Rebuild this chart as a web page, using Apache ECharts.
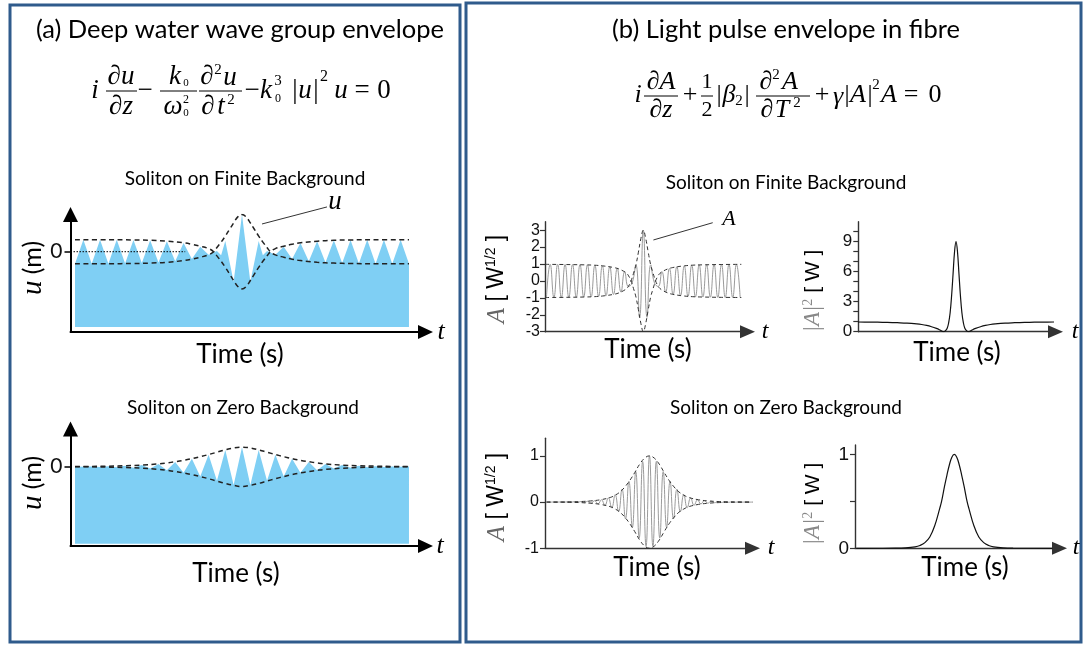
<!DOCTYPE html>
<html><head><meta charset="utf-8">
<script src="https://cdn.jsdelivr.net/npm/echarts@6/dist/echarts.min.js"></script>
<style>html,body{margin:0;padding:0;background:#fff}#c{width:1084px;height:646px}</style>
</head><body><div id="c"></div>
<script>
// ---------------- DATA ----------------
// (a) top: soliton on finite background, wave extrema (t in half-periods, u in background units)
const aTopT = [-20,-19,-18,-17,-16,-15,-14,-13,-12,-11,-10,-9,-8,-7,-6,-5,-4,-3,-2.5,-2,-1,0,1,2,2.5,3,4,5,6,7,8,9,10,11,12,13,14,15,16,17,18,19,20];
const aTopU = [-1,1,-1,1,-1,1,-0.98,0.98,-0.95,0.95,-0.9,0.88,-0.8,0.72,-0.6,0.42,-0.25,0.05,-0.3,0.9,-2.5,3.1,-2.5,0.9,-0.3,0.05,-0.25,0.42,-0.6,0.72,-0.8,0.88,-0.9,0.95,-0.95,0.98,-0.98,1,-1,1,-1,1,-1];
const aTopEnvT = [-20,-16,-13,-11,-9,-7,-6,-5,-4,-3.4,-3,-2.5,-2,-1.5,-1,-0.5,0,0.5,1,1.5,2,2.5,3,3.4,4,5,6,7,9,11,13,16,20];
const aTopEnvUpper = [1,1,0.98,0.95,0.88,0.74,0.62,0.46,0.26,0,-0.35,-0.8,-1.3,-1.85,-2.4,-2.9,-3.1,-2.9,-2.4,-1.85,-1.3,-0.8,-0.35,0,0.26,0.46,0.62,0.74,0.88,0.95,0.98,1,1];
const aTopEnvLower = [-1,-1,-0.98,-0.95,-0.88,-0.74,-0.62,-0.46,-0.26,0,0.35,0.8,1.3,1.85,2.4,2.9,3.1,2.9,2.4,1.85,1.3,0.8,0.35,0,-0.26,-0.46,-0.62,-0.74,-0.88,-0.95,-0.98,-1,-1];
const aTopZeroT = [-20.54,-6.8];
const aTopZeroU = [0,0];
const aTopPointerT = [10.18,2.4];
const aTopPointerU = [3.73,2.31];
const aFillBaseTop = -6.27;

// (a) bottom: soliton on zero background
const aBotT = [-20,-19,-18,-17,-16,-15,-14,-13,-12,-11,-10,-9,-8,-7,-6,-5,-4,-3,-2,-1,0,1,2,3,4,5,6,7,8,9,10,11,12,13,14,15,16,17,18,19,20];
const aBotU = [0.006,-0.009,0.012,-0.018,0.025,-0.033,0.045,-0.06,0.08,-0.1,0.14,-0.18,0.24,-0.31,0.4,-0.5,0.61,-0.72,0.85,-0.94,1,-0.94,0.85,-0.72,0.61,-0.5,0.4,-0.31,0.24,-0.18,0.14,-0.1,0.08,-0.06,0.045,-0.033,0.025,-0.018,0.012,-0.009,0.006];
const aBotEnvT = [-20,-18,-16,-14,-12,-10,-9,-8,-7,-6,-5,-4,-3,-2,-1,0,1,2,3,4,5,6,7,8,9,10,12,14,16,18,20];
const aBotEnvUpper = [0.006,0.012,0.025,0.045,0.08,0.14,0.19,0.25,0.32,0.41,0.51,0.62,0.74,0.86,0.96,1,0.96,0.86,0.74,0.62,0.51,0.41,0.32,0.25,0.19,0.14,0.08,0.045,0.025,0.012,0.006];
const aBotEnvLower = [-0.006,-0.012,-0.025,-0.045,-0.08,-0.14,-0.19,-0.25,-0.32,-0.41,-0.51,-0.62,-0.74,-0.86,-0.96,-1.02,-0.96,-0.86,-0.74,-0.62,-0.51,-0.41,-0.32,-0.25,-0.19,-0.14,-0.08,-0.045,-0.025,-0.012,-0.006];
const aFillBaseBot = -3.96;

// (b) top-left: field A of the Peregrine-type pulse (carrier extrema) and its envelope
const bTLT = [-9.88,-9.5,-9.12,-8.74,-8.36,-7.98,-7.6,-7.22,-6.84,-6.46,-6.08,-5.7,-5.32,-4.94,-4.56,-4.18,-3.8,-3.42,-3.04,-2.66,-2.28,-1.9,-1.52,-1.14,-0.76,-0.38,0,0.38,0.76,1.14,1.52,1.9,2.28,2.66,3.04,3.42,3.8,4.18,4.56,4.94,5.32,5.7,6.08,6.46,6.84,7.22,7.6,7.98,8.36,8.74,9.12,9.5,9.88];
const bTLA = [-0.98,0.98,-0.98,0.98,-0.98,0.97,-0.97,0.97,-0.96,0.96,-0.95,0.95,-0.94,0.93,-0.91,0.89,-0.87,0.84,-0.8,0.74,-0.66,0.55,-0.33,-0.12,0.95,-2.15,3,-2.15,0.95,-0.12,-0.33,0.55,-0.66,0.74,-0.8,0.84,-0.87,0.89,-0.91,0.93,-0.94,0.95,-0.95,0.96,-0.96,0.97,-0.97,0.97,-0.98,0.98,-0.98,0.98,-0.98];
const bTLEnvT = [-10,-8,-6,-5,-4,-3,-2.5,-2,-1.7,-1.5,-1.25,-1,-0.75,-0.5,-0.25,0,0.25,0.5,0.75,1,1.25,1.5,1.7,2,2.5,3,4,5,6,8,10];
const bTLEnvUpper = [0.98,0.97,0.95,0.93,0.88,0.79,0.71,0.57,0.45,0.3,0,-0.45,-0.95,-1.7,-2.5,-3,-2.5,-1.7,-0.95,-0.45,0,0.3,0.45,0.57,0.71,0.79,0.88,0.93,0.95,0.97,0.98];
const bTLEnvLower = [-0.98,-0.97,-0.95,-0.93,-0.88,-0.79,-0.71,-0.57,-0.45,-0.3,0,0.45,0.95,1.7,2.5,3,2.5,1.7,0.95,0.45,0,-0.3,-0.45,-0.57,-0.71,-0.79,-0.88,-0.93,-0.95,-0.97,-0.98];
const bTLPointerT = [7.08,1.03];
const bTLPointerA = [3.44,2.42];
const bTLTicks = [-3,-2,-1,0,1,2,3];

// (b) top-right: power |A|^2
const bTRT = [-10,-9,-8,-7,-6,-5,-4,-3.5,-3,-2.5,-2,-1.7,-1.45,-1.25,-1.1,-0.9,-0.75,-0.6,-0.45,-0.3,-0.15,0,0.15,0.3,0.45,0.6,0.75,0.9,1.1,1.25,1.45,1.7,2,2.5,3,3.5,4,5,6,7,8,9,10];
const bTRP = [0.97,0.96,0.95,0.93,0.9,0.86,0.78,0.72,0.63,0.5,0.33,0.2,0.06,0,0.08,0.35,0.9,1.9,3.6,5.8,8,9,8,5.8,3.6,1.9,0.9,0.35,0.08,0,0.06,0.2,0.33,0.5,0.63,0.72,0.78,0.86,0.9,0.93,0.95,0.96,0.97];
const bTRTicks = [0,1,2,3,4,5,6,7,8,9,10];
const bTRLabels = [0,3,6,9];

// (b) bottom-left: bright soliton field
const bBLT = [-10.5,-10.15,-9.8,-9.45,-9.1,-8.75,-8.4,-8.05,-7.7,-7.35,-7,-6.65,-6.3,-5.95,-5.6,-5.25,-4.9,-4.55,-4.2,-3.85,-3.5,-3.15,-2.8,-2.45,-2.1,-1.75,-1.4,-1.05,-0.7,-0.35,0,0.35,0.7,1.05,1.4,1.75,2.1,2.45,2.8,3.15,3.5,3.85,4.2,4.55,4.9,5.25,5.6,5.95,6.3,6.65,7,7.35,7.7,8.05,8.4,8.75,9.1,9.45,9.8,10.15,10.5];
const bBLA = [0,-0.001,0.001,-0.001,0.002,-0.002,0.003,-0.004,0.006,-0.008,0.01,-0.014,0.018,-0.024,0.03,-0.04,0.05,-0.07,0.09,-0.12,0.16,-0.21,0.28,-0.36,0.45,-0.55,0.66,-0.78,0.88,-0.96,1,-0.96,0.88,-0.78,0.66,-0.55,0.45,-0.36,0.28,-0.21,0.16,-0.12,0.09,-0.07,0.05,-0.04,0.03,-0.024,0.018,-0.014,0.01,-0.008,0.006,-0.004,0.003,-0.002,0.002,-0.001,0.001,-0.001,0];
const bBLEnvT = [-10.5,-9,-8,-7,-6,-5,-4,-3.5,-3,-2.5,-2,-1.5,-1,-0.5,0,0.5,1,1.5,2,2.5,3,3.5,4,5,6,7,8,9,10.5];
const bBLEnvUpper = [0,0.003,0.006,0.012,0.025,0.05,0.1,0.15,0.22,0.33,0.47,0.64,0.82,0.95,1,0.95,0.82,0.64,0.47,0.33,0.22,0.15,0.1,0.05,0.025,0.012,0.006,0.003,0];
const bBLEnvLower = [0,-0.003,-0.006,-0.012,-0.025,-0.05,-0.1,-0.15,-0.22,-0.33,-0.47,-0.64,-0.82,-0.95,-1,-0.95,-0.82,-0.64,-0.47,-0.33,-0.22,-0.15,-0.1,-0.05,-0.025,-0.012,-0.006,-0.003,0];
const bBLTicks = [-1,0,1];

// (b) bottom-right: power |A|^2
const bBRT = [-10,-6,-5,-4,-3.5,-3,-2.5,-2,-1.5,-1.3,-1,-0.75,-0.5,-0.25,0,0.25,0.5,0.75,1,1.3,1.5,2,2.5,3,3.5,4,5,6,10];
const bBRP = [0,0.001,0.004,0.015,0.03,0.06,0.12,0.24,0.42,0.5,0.66,0.78,0.89,0.97,1,0.97,0.89,0.78,0.66,0.5,0.42,0.24,0.12,0.06,0.03,0.015,0.004,0.001,0];
const bBRTicks = [0,0.5,1];
const bBRLabels = [0,1];

// ---------------- CHART ----------------
const SERIF = 'Liberation Serif', SANS = 'Lato', ARIAL = 'Liberation Sans';
const BLUE = '#7fcff4', FRAME = '#2f5b8c';
const zip = (a, b) => a.map((v, i) => [v, b[i]]);

const grids = [
  {left: 70.5, top: 214.5, width: 355, height: 117.5},
  {left: 70.5, top: 429, width: 355, height: 117},
  {left: 545, top: 221.7, width: 202.5, height: 110},
  {left: 858.3, top: 221.7, width: 197.2, height: 110},
  {left: 545, top: 438.3, width: 207.5, height: 110},
  {left: 855, top: 445, width: 204.5, height: 103.3}
].map(g => Object.assign({containLabel: false, outerBoundsMode: 'none'}, g));

const xRanges = [[-20.54, 21.98], [-20.54, 21.98], [-10.03, 10.63], [-9.97, 10.15], [-10.66, 10.51], [-10.13, 10.73]];
const yRanges = [[-6.69, 3.1], [-4.07, 1.93], [-3, 3.5], [0, 11], [-1, 1.38], [0, 1.1]];

function xAx(i) {
  const isA = i < 2;
  return {
    gridIndex: i, type: 'value', min: xRanges[i][0], max: xRanges[i][1],
    axisLine: {show: true, onZero: false, symbol: ['none', 'triangle'], symbolSize: isA ? [14, 15] : [13, 15],
      lineStyle: {color: isA ? '#000' : '#333', width: isA ? 2 : 1.4}},
    axisTick: {show: false}, axisLabel: {show: false}, splitLine: {show: false}
  };
}
function yAx(i, ticks, labels, fs, fam, margin) {
  const isA = i < 2;
  return {
    gridIndex: i, type: 'value', min: yRanges[i][0], max: yRanges[i][1],
    axisLine: {show: true, onZero: false, symbol: isA ? ['none', 'triangle'] : ['none', 'none'], symbolSize: [15, 15],
      lineStyle: {color: isA ? '#000' : '#333', width: isA ? 2 : 1.4}},
    axisTick: {show: true, customValues: ticks, length: isA ? 6 : 5, lineStyle: {color: isA ? '#000' : '#333', width: isA ? 1.5 : 1.2}},
    axisLabel: {show: true, customValues: labels, fontSize: fs, fontFamily: fam, color: '#111', margin: margin},
    splitLine: {show: false}
  };
}

function fillSeries(gi, pts, base) {
  return {
    type: 'custom', xAxisIndex: gi, yAxisIndex: gi, data: pts, silent: true, z: 1,
    renderItem: (params, api) => {
      if (params.dataIndex !== 0) return null;
      const poly = [api.coord([pts[0][0], base])]
        .concat(pts.map(p => api.coord(p)))
        .concat([api.coord([pts[pts.length - 1][0], base])]);
      return {type: 'polygon', shape: {points: poly}, style: {fill: BLUE}};
    }
  };
}
function line(gi, data, color, width, type, smooth, extra) {
  return Object.assign({
    type: 'line', xAxisIndex: gi, yAxisIndex: gi, data: data, symbol: 'none', silent: true,
    smooth: smooth, lineStyle: {color: color, width: width, type: type}, z: 3
  }, extra || {});
}

const series = [
  fillSeries(0, zip(aTopT, aTopU), aFillBaseTop),
  line(0, zip(aTopEnvT, aTopEnvUpper), '#222', 1.5, [5, 3.5], 0.4),
  line(0, zip(aTopEnvT, aTopEnvLower), '#222', 1.5, [5, 3.5], 0.4),
  line(0, zip(aTopZeroT, aTopZeroU), '#000', 1, [1.5, 1.5], false, {z: 4}),
  line(0, zip(aTopPointerT, aTopPointerU), '#333', 1, 'solid', false, {clip: false}),

  fillSeries(1, zip(aBotT, aBotU), aFillBaseBot),
  line(1, zip(aBotEnvT, aBotEnvUpper), '#222', 1.5, [5, 3.5], 0.4),
  line(1, zip(aBotEnvT, aBotEnvLower), '#222', 1.5, [5, 3.5], 0.4),

  line(2, zip(bTLT, bTLA), '#9a9a9a', 1, 'solid', 0.5),
  line(2, zip(bTLEnvT, bTLEnvUpper), '#333', 1, [4, 3], 0.4),
  line(2, zip(bTLEnvT, bTLEnvLower), '#333', 1, [4, 3], 0.4),
  line(2, zip(bTLPointerT, bTLPointerA), '#333', 1, 'solid', false, {clip: false}),

  line(3, zip(bTRT, bTRP), '#111', 1.2, 'solid', 0.4),

  line(4, zip(bBLT, bBLA), '#9a9a9a', 1, 'solid', 0.5),
  line(4, zip(bBLEnvT, bBLEnvUpper), '#333', 1, [4, 3], 0.4),
  line(4, zip(bBLEnvT, bBLEnvLower), '#333', 1, [4, 3], 0.4),

  line(5, zip(bBRT, bBRP), '#111', 1.2, 'solid', 0.4)
];

// ---------------- TEXT / DECORATION ----------------
function T(x, y, text, size, o) {
  o = o || {};
  const el = {type: 'text', x: x, y: y, z: 10, silent: true,
    style: {text: text, fontSize: size, fontFamily: o.f || SERIF, fontStyle: o.it ? 'italic' : 'normal',
      fill: o.c || '#000', align: o.a || 'center', verticalAlign: o.v || 'middle', rich: o.rich}};
  if (o.rot) el.rotation = o.rot;
  return el;
}
function L(x1, y1, x2, y2, w, c) {
  return {type: 'line', z: 10, silent: true, shape: {x1: x1, y1: y1, x2: x2, y2: y2}, style: {stroke: c || '#000', lineWidth: w || 1}};
}
const it = {it: true};
const g = [];
// frames
g.push({type: 'rect', z: 0, silent: true, shape: {x: 10, y: 5, width: 450, height: 637}, style: {fill: 'none', stroke: FRAME, lineWidth: 3}});
g.push({type: 'rect', z: 0, silent: true, shape: {x: 466, y: 3, width: 615, height: 639}, style: {fill: 'none', stroke: FRAME, lineWidth: 3}});
// titles
g.push(T(240, 30, '(a) Deep water wave group envelope', 25.5, {f: SANS}));
g.push(T(786, 30, '(b) Light pulse envelope in fibre', 25.5, {f: SANS}));
g.push(T(245, 179, 'Soliton on Finite Background', 19, {f: SANS}));
g.push(T(243, 408, 'Soliton on Zero Background', 19, {f: SANS}));
g.push(T(786, 183, 'Soliton on Finite Background', 19, {f: SANS}));
g.push(T(786, 408, 'Soliton on Zero Background', 19, {f: SANS}));
// Time labels
[[240, 355], [236, 574], [648, 350], [957, 353], [657, 568], [965, 568]].forEach(p => g.push(T(p[0], p[1], 'Time (s)', 26, {f: SANS})));
// t labels
g.push(T(441, 332, 't', 26, it)); g.push(T(440, 546, 't', 26, it));
g.push(T(765, 332, 't', 24, it)); g.push(T(1075, 332, 't', 24, it));
g.push(T(771, 548, 't', 24, it)); g.push(T(1076, 548, 't', 24, it));
// annotations
g.push(T(335, 202, 'u', 27, it));
g.push(T(729, 219, 'A', 22, it));
// y names
const richA = {i: {fontFamily: SERIF, fontStyle: 'italic', fontSize: 29}};
g.push(T(33, 268, '{i|u} (m)', 25, {f: SANS, rot: Math.PI / 2, rich: richA}));
g.push(T(33, 483, '{i|u} (m)', 25, {f: SANS, rot: Math.PI / 2, rich: richA}));
const richB = {i: {fontFamily: SERIF, fontStyle: 'italic', fontSize: 25, fill: '#666'}, s: {fontFamily: ARIAL, fontSize: 14, verticalAlign: 'top'}};
g.push(T(497, 279, '{i|A} [ W{s|1/2} ]', 23, {f: ARIAL, rot: Math.PI / 2, rich: richB}));
g.push(T(497, 497, '{i|A} [ W{s|1/2} ]', 23, {f: ARIAL, rot: Math.PI / 2, rich: richB}));
const richC = {g: {fontFamily: SERIF, fontStyle: 'italic', fontSize: 23, fill: '#888'}, s: {fontFamily: SERIF, fontSize: 14, fill: '#888', verticalAlign: 'top'}};
g.push(T(813, 291, '{g||A|}{s|2} [ W ]', 21, {f: ARIAL, rot: Math.PI / 2, rich: richC}));
g.push(T(813, 504, '{g||A|}{s|2} [ W ]', 21, {f: ARIAL, rot: Math.PI / 2, rich: richC}));

// equation (a)
(function () {
  const S = 27, y = 91, fy = 91, ny = 77, dy = 107;
  g.push(T(95, y, 'i', S, it));
  g.push(T(121, ny, '∂u', S, it)); g.push(L(106, fy, 137, fy)); g.push(T(121, dy, '∂z', S, it));
  g.push(T(145, y, '−', S));
  g.push(T(175, ny, 'k', S, it)); g.push(T(186, ny + 6, '0', 11));
  g.push(L(160, fy, 197, fy));
  g.push(T(173, dy, 'ω', S, it)); g.push(T(186, dy - 7, '2', 12)); g.push(T(186, dy + 6, '0', 11));
  g.push(T(207, ny, '∂', S, it)); g.push(T(218, ny - 7, '2', 15)); g.push(T(230, ny + 1, 'u', S, it));
  g.push(L(199, fy, 242, fy));
  g.push(T(208, dy, '∂', S, it)); g.push(T(221, dy, 't', S, it)); g.push(T(231, dy - 7, '2', 15));
  g.push(T(252, y, '−', S));
  g.push(T(266, y, 'k', S, it)); g.push(T(278, y - 10, '3', 15)); g.push(T(278, y + 8, '0', 12));
  g.push(T(305, y, '|u|', S, it)); g.push(T(324, y - 14, '2', 16));
  g.push(T(341, y, 'u', S, it));
  g.push(T(362, y, '=', S));
  g.push(T(384, y, '0', S));
})();
// equation (b)
(function () {
  const S = 26, y = 95, fy = 96, ny = 82, dy = 110;
  g.push(T(638, y, 'i', S, it));
  g.push(T(661, ny, '∂A', S, it)); g.push(L(644, fy, 678, fy)); g.push(T(661, dy, '∂z', S, it));
  g.push(T(690, y, '+', S));
  g.push(T(707, ny, '1', 22)); g.push(L(701, fy, 713, fy)); g.push(T(707, dy, '2', 22));
  g.push(T(719, y, '|', S)); g.push(T(729, y, 'β', S, it)); g.push(T(739, y + 6, '2', 15)); g.push(T(747, y, '|', S));
  g.push(T(766, ny, '∂', S, it)); g.push(T(776, ny - 7, '2', 15)); g.push(T(790, ny, 'A', S, it));
  g.push(L(756, fy, 810, fy));
  g.push(T(767, dy, '∂', S, it)); g.push(T(782, dy, 'T', S, it)); g.push(T(797, dy - 7, '2', 15));
  g.push(T(822, y, '+', S));
  g.push(T(838, y + 2, 'γ', S, it));
  g.push(T(858, y, '|A|', S, it)); g.push(T(876, y - 10, '2', 15));
  g.push(T(889, y, 'A', S, it));
  g.push(T(911, y, '=', S));
  g.push(T(935, y, '0', S));
})();

const option = {
  animation: false,
  backgroundColor: '#fff',
  grid: grids,
  xAxis: [0, 1, 2, 3, 4, 5].map(xAx),
  yAxis: [
    yAx(0, [0], [0], 21, SANS, 8),
    yAx(1, [0], [0], 21, SANS, 8),
    yAx(2, bTLTicks, bTLTicks, 16, ARIAL, 5),
    yAx(3, bTRTicks, bTRLabels, 17, ARIAL, 6),
    yAx(4, bBLTicks, bBLTicks, 16, ARIAL, 6),
    yAx(5, bBRTicks, bBRLabels, 19, ARIAL, 6)
  ],
  series: series,
  graphic: g
};
const chart = echarts.init(document.getElementById('c'), null, {renderer: 'canvas'});
chart.setOption(option);
</script>
</body></html>
